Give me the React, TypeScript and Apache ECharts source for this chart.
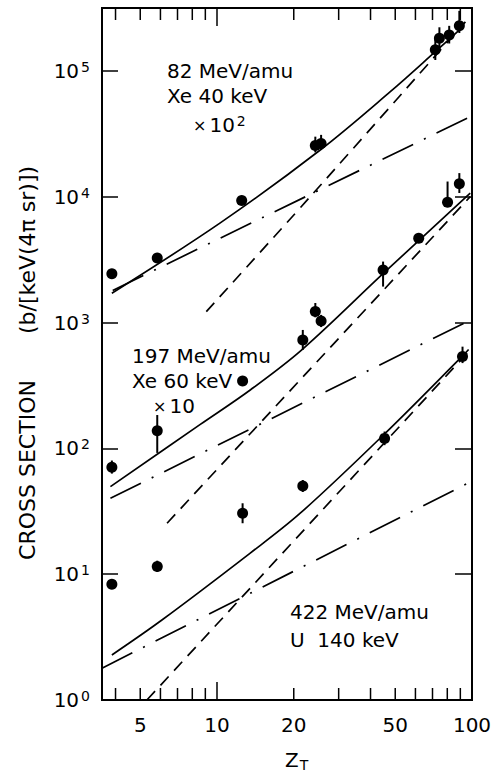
import React, { useEffect, useRef } from 'react';
import * as echarts from 'echarts';

// Axis ranges (both axes logarithmic)
const Z_MIN = 3.54;
const Z_MAX = 100;
const CS_MIN = 1;
const CS_MAX = 316000;

const FONT = '"DejaVu Sans", sans-serif';

// 82 MeV/amu Xe, 40 keV photons (values multiplied by 10^2)
const Z_82 = [3.87, 5.83, 12.5, 24.3, 25.6, 71.8, 74.5, 81.4, 89.2];
const CS_82 = [2440, 3260, 9310, 25500, 26500, 147000, 182000, 193000, 228000];
const LO_82 = [null, null, null, 22500, 23500, 122000, 150000, 165000, 200000];
const HI_82 = [null, null, null, 30000, 31000, 178000, 222000, 228000, 300000];

// 197 MeV/amu Xe, 60 keV photons (values multiplied by 10)
const Z_197 = [3.87, 5.83, 12.6, 21.7, 24.3, 25.6, 44.8, 61.8, 80.2, 89.2];
const CS_197 = [70.8, 138, 343, 727, 1222, 1030, 2620, 4680, 9040, 12650];
const LO_197 = [63, 92, null, 606, 1100, 920, 1930, null, 8300, 10700];
const HI_197 = [80, 184, null, 873, 1430, 1150, 3050, null, 13200, 15400];

// 422 MeV/amu U, 140 keV photons
const Z_422 = [3.87, 5.83, 12.6, 21.7, 45.4, 91.8];
const CS_422 = [8.3, 11.5, 30.5, 50.3, 120, 536];
const LO_422 = [null, 10.4, 25.4, 45, 106, 476];
const HI_422 = [null, 12.8, 36.6, 56, 136, 643];

// Calculated curves: total (solid), steep component (dashed), slow component (dash-dot)
const SOLID_82_Z = [3.87, 10.3, 25.4, 47.7, 71.8, 90];
const SOLID_82_CS = [1710, 6190, 23500, 68000, 142000, 215000];
const DASH_82_Z = [9.08, 23.2, 94.2];
const DASH_82_CS = [1222, 10000, 245000];
const DOTDASH_82_Z = [3.9, 98.5];
const DOTDASH_82_CS = [1800, 43300];

const SOLID_197_Z = [3.82, 8.6, 13.5, 21.5, 45, 98.4];
const SOLID_197_CS = [49.6, 155, 291, 606, 2466, 10660];
const DASH_197_Z = [6.37, 98.4];
const DASH_197_CS = [25.4, 10000];
const DOTDASH_197_Z = [3.82, 100];
const DOTDASH_197_CS = [40.1, 1062];

const SOLID_422_Z = [3.87, 6.08, 13.5, 21.2, 45, 92.7, 97];
const SOLID_422_CS = [2.28, 4.32, 14.7, 30.5, 128, 553, 610];
const DASH_422_Z = [5.31, 98.4];
const DASH_422_CS = [1, 606];
const DOTDASH_422_Z = [3.54, 98.4];
const DOTDASH_422_CS = [1.79, 54];

// Z_T tick marks (inside, top and bottom) and labelled values
const Z_TICKS = [4, 5, 6, 7, 8, 9, 10, 20, 30, 40, 50, 60, 70, 80, 90];
const Z_TICK_LEN = [12, 12, 12, 12, 12, 12, 18, 12, 12, 12, 12, 12, 12, 12, 12];
const Z_LABELS = [5, 10, 20, 50, 100];

const zip = (xs: number[], ys: (number | null)[]) => xs.map((x, i) => [x, ys[i]]);

function curve(xs: number[], ys: number[], type: 'solid' | 'dashed' | 'dotdash', smooth: boolean) {
  const dash = type === 'solid' ? 'solid' : type === 'dashed' ? [12, 8] : [34, 12, 2, 12];
  return {
    type: 'line',
    data: zip(xs, ys),
    showSymbol: false,
    symbol: 'none',
    smooth: smooth ? 0.35 : false,
    clip: true,
    lineStyle: { color: '#000', width: 1.7, type: dash },
    silent: true,
    z: 2,
  };
}

function points(xs: number[], ys: number[]) {
  return {
    type: 'scatter',
    data: zip(xs, ys),
    symbol: 'circle',
    symbolSize: 11,
    itemStyle: { color: '#000', opacity: 1 },
    silent: true,
    z: 4,
  };
}

function errorBars(xs: number[], lo: (number | null)[], hi: (number | null)[]) {
  const data = xs
    .map((x, i) => [x, lo[i], hi[i]])
    .filter((d) => d[1] != null && d[2] != null);
  return {
    type: 'custom',
    data,
    clip: false,
    silent: true,
    z: 3,
    renderItem: (_p: any, api: any) => {
      const a = api.coord([api.value(0), api.value(1)]);
      const b = api.coord([api.value(0), api.value(2)]);
      return {
        type: 'line',
        shape: { x1: a[0], y1: a[1], x2: b[0], y2: b[1] },
        style: { stroke: '#000', lineWidth: 2 },
      };
    },
  };
}

export default function App() {
  const ref = useRef<HTMLDivElement>(null);

  useEffect(() => {
    if (!ref.current) return;
    const chart = echarts.init(ref.current, null, { renderer: 'svg' });

    const tickSeries = {
      type: 'custom',
      data: Z_TICKS.map((z, i) => [z, Z_TICK_LEN[i]]),
      clip: false,
      silent: true,
      z: 5,
      renderItem: (_p: any, api: any) => {
        const z = api.value(0);
        const len = api.value(1);
        const b = api.coord([z, CS_MIN]);
        const t = api.coord([z, CS_MAX]);
        return {
          type: 'group',
          children: [
            { type: 'line', shape: { x1: b[0], y1: b[1], x2: b[0], y2: b[1] - len }, style: { stroke: '#000', lineWidth: 1.5 } },
            { type: 'line', shape: { x1: t[0], y1: t[1], x2: t[0], y2: t[1] + len }, style: { stroke: '#000', lineWidth: 1.5 } },
          ],
        };
      },
    };

    const labelSeries = {
      type: 'custom',
      data: Z_LABELS.map((z) => [z]),
      clip: false,
      silent: true,
      renderItem: (_p: any, api: any) => {
        const z = api.value(0);
        const p = api.coord([z, CS_MIN]);
        return {
          type: 'text',
          x: p[0],
          y: p[1] + 25,
          style: {
            text: String(z),
            fill: '#000',
            fontSize: 20,
            fontFamily: FONT,
            align: 'center',
            verticalAlign: 'middle',
          },
        };
      },
    };

    const rich = {
      b: { fontSize: 20, fontFamily: FONT, color: '#000', lineHeight: 22 },
      s: { fontSize: 14, fontFamily: FONT, color: '#000', verticalAlign: 'top', lineHeight: 14, padding: [0, 0, 0, 2] },
    };

    const text = (x: number, y: number, t: string, size = 20) => ({
      type: 'text',
      x,
      y,
      silent: true,
      style: {
        text: t,
        fill: '#000',
        fontSize: size,
        fontFamily: FONT,
        align: 'left',
        verticalAlign: 'middle',
      },
    });

    chart.setOption({
      animation: false,
      backgroundColor: '#fff',
      grid: {
        left: 102,
        right: 28,
        top: 8,
        bottom: 72,
        show: true,
        borderColor: '#000',
        borderWidth: 2,
        backgroundColor: 'transparent',
      },
      xAxis: {
        type: 'log',
        logBase: 10,
        min: Z_MIN,
        max: Z_MAX,
        axisLine: { show: false },
        axisTick: { show: false },
        axisLabel: { show: false },
        splitLine: { show: false },
        minorTick: { show: false },
      },
      yAxis: [
        {
          type: 'log',
          logBase: 10,
          min: CS_MIN,
          max: CS_MAX,
          position: 'left',
          axisLine: { show: false },
          axisTick: { show: true, inside: true, length: 16, lineStyle: { color: '#000', width: 1.5 } },
          splitLine: { show: false },
          axisLabel: {
            margin: 12,
            formatter: (v: number) => {
              const e = Math.round(Math.log10(v));
              if (Math.abs(Math.log10(v) - e) > 1e-6) return '';
              return `{b|10}{s|${e}}`;
            },
            rich,
          },
        },
        {
          type: 'log',
          logBase: 10,
          min: CS_MIN,
          max: CS_MAX,
          position: 'right',
          axisLine: { show: false },
          axisTick: { show: true, inside: true, length: 17, lineStyle: { color: '#000', width: 1.5 } },
          splitLine: { show: false },
          axisLabel: { show: false },
        },
      ],
      graphic: [
        text(167, 71, '82 MeV/amu'),
        text(167, 96, 'Xe 40 keV'),
        {
          type: 'text',
          x: 193,
          y: 125,
          silent: true,
          style: {
            text: '{m|×}{b|10}{s|2}',
            verticalAlign: 'middle',
            align: 'left',
            rich: { ...rich, m: { fontSize: 16, fontFamily: FONT, color: '#000', lineHeight: 22, padding: [0, 3, 0, 0] } },
          },
        },
        text(132, 356, '197 MeV/amu'),
        text(132, 381, 'Xe 60 keV'),
        {
          type: 'text',
          x: 153,
          y: 406,
          silent: true,
          style: {
            text: '{m|×}{b|10}',
            verticalAlign: 'middle',
            align: 'left',
            rich: { ...rich, m: { fontSize: 16, fontFamily: FONT, color: '#000', lineHeight: 22, padding: [0, 3, 0, 0] } },
          },
        },
        text(290, 612, '422 MeV/amu'),
        text(290, 640, 'U  140 keV'),
        {
          type: 'text',
          x: 27,
          y: 470,
          rotation: Math.PI / 2,
          silent: true,
          style: { text: 'CROSS SECTION', fill: '#000', fontSize: 22, fontFamily: FONT, align: 'center', verticalAlign: 'middle' },
        },
        {
          type: 'text',
          x: 27,
          y: 250,
          rotation: Math.PI / 2,
          silent: true,
          style: { text: '(b/[keV(4π sr)])', fill: '#000', fontSize: 22, fontFamily: FONT, align: 'center', verticalAlign: 'middle' },
        },
        {
          type: 'text',
          x: 285,
          y: 760,
          silent: true,
          style: {
            text: '{z|Z}{t|T}',
            align: 'left',
            verticalAlign: 'middle',
            rich: {
              z: { fontSize: 20, fontFamily: FONT, color: '#000', lineHeight: 24 },
              t: { fontSize: 14, fontFamily: FONT, color: '#000', verticalAlign: 'bottom', lineHeight: 14, padding: [0, 0, 0, 1] },
            },
          },
        },
      ],
      series: [
        curve(SOLID_82_Z, SOLID_82_CS, 'solid', true),
        curve(DASH_82_Z, DASH_82_CS, 'dashed', true),
        curve(DOTDASH_82_Z, DOTDASH_82_CS, 'dotdash', false),
        curve(SOLID_197_Z, SOLID_197_CS, 'solid', true),
        curve(DASH_197_Z, DASH_197_CS, 'dashed', false),
        curve(DOTDASH_197_Z, DOTDASH_197_CS, 'dotdash', false),
        curve(SOLID_422_Z, SOLID_422_CS, 'solid', true),
        curve(DASH_422_Z, DASH_422_CS, 'dashed', false),
        curve(DOTDASH_422_Z, DOTDASH_422_CS, 'dotdash', false),
        errorBars(Z_82, LO_82, HI_82),
        errorBars(Z_197, LO_197, HI_197),
        errorBars(Z_422, LO_422, HI_422),
        points(Z_82, CS_82),
        points(Z_197, CS_197),
        points(Z_422, CS_422),
        tickSeries,
        labelSeries,
      ],
    });

    return () => chart.dispose();
  }, []);

  return (
    <div
      ref={ref}
      style={{ position: 'fixed', left: 0, top: 0, width: 500, height: 772, background: '#fff' }}
    />
  );
}
